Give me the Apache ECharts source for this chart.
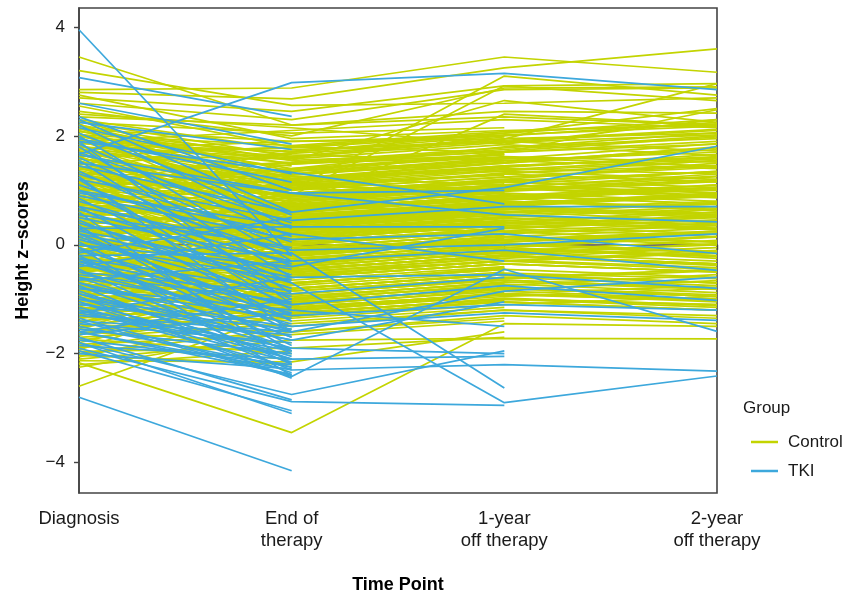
<!DOCTYPE html>
<html>
<head>
<meta charset="utf-8">
<script src="https://cdn.jsdelivr.net/npm/echarts@6/dist/echarts.min.js"></script>
<style>html,body{margin:0;padding:0;background:#fff}#c{width:845px;height:599px}</style>
</head>
<body>
<div id="c"></div>
<script>
const timePoints = ['Diagnosis', 'End of\ntherapy', '1-year\noff therapy', '2-year\noff therapy'];
const yTicks = [-4, -2, 0, 2, 4];
const groups = ['Control', 'TKI'];

// Each row: [Diagnosis, End of therapy, 1-year off, 2-year off] (null = not measured)
const controlPatients = [
[3.45,2.2,2.35,2.2],[3.2,2.56,2.6,2.7],[2.85,2.88,3.45,3.17],[2.8,2.68,3.25,3.6],[2.75,1.95,2.1,2.2],
[2.7,2.45,2.92,2.96],[2.6,2.3,2.85,2.88],[2.55,1.8,2.05,2.5],[2.4,2.15,1.85,2.3],[2.45,2.0,2.88,2.9],
[2.0,1.55,2.65,2.25],[1.75,1.9,1.94,2.96],[1.1,1.3,1.7,2.48],[2.35,2.2,2.45,2.42],[1.9,2.1,2.3,2.15],
[2.3,1.75,1.9,2.1],[2.28,1.2,1.45,1.6],[2.25,2.05,2.15,null],[2.22,0.9,1.1,0.95],[2.2,1.55,1.7,1.85],
[2.18,1.35,null,null],[2.15,0.6,0.85,1.1],[2.12,1.9,2.0,2.25],[2.1,1.05,1.3,null],[2.08,1.65,1.55,1.4],
[2.05,0.4,0.7,0.55],[2.02,1.4,1.8,1.95],[2.0,1.1,0.95,null],[1.98,1.7,2.05,2.3],[1.95,0.75,null,null],
[1.92,1.25,1.35,1.2],[1.9,0.95,1.2,1.5],[1.88,1.5,1.6,null],[1.85,0.2,0.45,0.3],[1.82,1.15,1.0,1.25],
[1.8,1.6,1.95,2.05],[1.78,0.55,0.8,null],[1.75,1.3,1.5,1.75],[1.72,0.85,1.05,0.9],[1.7,1.45,null,null],
[1.68,0.3,0.6,0.75],[1.65,1.0,1.25,1.45],[1.62,1.8,1.7,1.9],[1.6,0.65,0.9,null],[1.58,1.2,1.4,1.3],
[1.55,0.1,0.35,0.5],[1.52,0.9,1.15,1.0],[1.5,1.0,3.1,2.75],[1.48,1.35,1.55,1.7],[1.45,0.45,0.65,null],
[1.42,1.1,1.3,1.55],[1.4,0.7,0.95,0.8],[1.38,1.5,1.75,2.0],[1.35,0.0,0.25,null],[1.32,0.9,2.92,2.65],
[1.3,1.25,1.1,1.35],[1.28,0.35,0.55,0.4],[1.25,0.8,null,null],[1.22,1.05,1.3,1.15],[1.2,0.55,0.75,0.95],
[1.18,1.4,1.65,null],[1.15,-0.1,0.15,0.05],[1.12,0.75,1.0,1.2],[1.1,1.15,1.45,1.6],[1.08,0.25,0.5,null],
[1.05,0.6,0.4,0.65],[1.02,0.95,1.2,1.05],[1.0,0.15,null,null],[0.98,0.5,0.8,0.7],[0.95,1.2,1.5,1.8],
[0.92,-0.2,0.05,0.25],[0.9,0.4,0.6,null],[0.88,0.85,1.1,0.9],[0.85,0.05,0.3,0.45],[0.82,0.65,0.9,1.1],
[0.8,1.05,0.85,null],[0.78,-0.35,-0.1,-0.2],[0.75,0.3,0.55,0.7],[0.72,0.7,2.4,2.2],[0.7,-0.05,0.2,null],
[0.68,0.55,0.7,0.55],[0.65,0.2,null,null],[0.62,0.9,1.15,1.35],[0.6,-0.45,-0.2,-0.05],[0.58,0.35,0.65,0.8],
[0.55,0.1,0.4,null],[0.52,0.75,0.55,0.3],[0.5,-0.15,0.1,0.2],[0.48,0.45,0.75,0.95],[0.45,-0.6,-0.35,null],
[0.42,0.25,0.5,0.35],[0.4,0.6,0.85,1.05],[0.38,-0.25,0.0,-0.15],[0.35,0.0,null,null],[0.32,0.4,0.65,0.5],
[0.3,-0.5,-0.3,-0.45],[0.28,0.15,0.45,null],[0.25,0.8,1.05,1.3],[0.22,-0.1,0.15,0.3],[0.2,0.3,0.25,0.05],
[0.18,-0.7,-0.45,null],[0.15,0.5,0.8,0.65],[0.12,-0.3,null,null],[0.1,0.1,0.35,0.55],[0.08,-0.85,-0.6,-0.75],
[0.05,0.2,0.5,null],[0.02,-0.45,-0.2,-0.35],[0.0,0.65,0.9,0.75],[-0.02,-0.15,0.1,0.25],[-0.05,-0.95,null,null],
[-0.08,0.05,0.3,0.15],[-0.1,-0.55,-0.3,-0.1],[-0.12,0.35,0.6,null],[-0.15,-0.35,-0.05,-0.25],[-0.18,-1.05,-0.8,-0.95],
[-0.2,0.0,0.25,0.4],[-0.22,-0.65,-0.4,null],[-0.25,0.45,0.7,0.9],[-0.28,-0.2,null,null],[-0.3,-0.8,-0.55,-0.7],
[-0.32,-0.4,-0.15,-0.3],[-0.35,0.15,0.4,0.6],[-0.38,-1.15,-0.9,null],[-0.4,-0.5,-0.25,-0.05],[-0.42,-0.1,0.15,0.0],
[-0.45,-0.75,null,null],[-0.48,-0.3,-0.05,0.15],[-0.5,-0.9,-0.65,-0.8],[-0.52,0.25,0.5,null],[-0.55,-0.6,-0.35,-0.5],
[-0.58,-1.25,-1.0,-1.1],[-0.6,-0.2,0.05,0.2],[-0.62,-0.7,null,null],[-0.65,-1.0,-0.75,-0.55],[-0.68,-0.35,-0.1,null],
[-0.7,0.1,0.35,0.2],[-0.72,-1.1,-0.85,-1.0],[-0.75,-0.55,-0.3,-0.15],[-0.78,-1.35,null,null],[-0.8,-0.8,-0.55,-0.7],
[-0.82,-0.25,0.0,0.15],[-0.85,-0.95,-0.7,null],[-0.88,-0.45,-0.2,-0.35],[-0.9,-1.2,-0.95,-0.8],[-0.92,-0.65,null,null],
[-0.95,-0.05,0.2,0.35],[-0.98,-1.05,-0.8,-0.95],[-1.0,-0.75,-0.5,null],[-1.02,-1.3,-1.05,-1.2],[-1.05,-0.4,-0.15,0.0],
[-1.08,-0.9,null,null],[-1.1,-1.15,-0.9,-1.05],[-1.12,-0.6,-0.35,-0.5],[-1.15,-1.4,-1.15,null],[-1.18,-0.85,-0.6,-0.45],
[-1.2,-0.3,-0.05,-0.2],[-1.22,-1.1,null,null],[-1.25,-0.7,-0.45,-0.6],[-1.28,-1.25,-1.0,-1.15],[-1.3,-0.95,-0.7,null],
[-1.33,-1.5,-1.2,-1.3],[-1.36,-0.55,-0.3,-0.15],[-1.4,-1.2,null,null],[-1.43,-0.8,-0.55,-0.7],[-1.46,-1.6,-1.3,-1.45],
[-1.5,-1.0,-0.75,null],[-1.53,-0.45,-0.2,-0.35],[-1.56,-1.35,-1.1,-0.95],[-1.6,-1.8,null,null],[-1.63,-1.05,-0.8,-0.95],
[-1.66,-0.7,-0.45,null],[-1.7,-1.45,-1.2,-1.35],[-1.73,-2.0,null,null],[-1.76,-1.15,-0.9,-0.75],[-1.8,-0.9,-0.65,-0.8],
[-1.83,-1.65,-1.4,null],[-1.86,-2.1,null,null],[-1.9,-1.3,-1.05,-1.2],[-1.93,-0.6,-0.35,-0.5],[-1.96,-1.9,-1.7,null],
[-2.0,-1.55,null,null],[-2.03,-2.2,null,null],[-2.06,-1.25,-1.0,-1.1],[-2.1,-1.75,-1.72,-1.73],[-2.13,-2.15,-1.6,null],
[-2.17,-3.45,-1.45,-1.5],[-2.2,-1.95,null,null],[-2.25,-1.6,-1.35,null],[-2.6,-1.2,-0.9,-1.0],
[2.26,1.62,1.88,2.02],[2.14,1.48,1.66,null],[2.04,1.22,1.52,1.78],[1.96,0.82,1.02,1.18],[1.86,1.72,1.92,2.12],
[1.76,1.08,1.28,null],[1.64,1.58,1.84,1.64],[1.54,0.62,0.88,1.06],[1.44,1.28,1.58,1.86],[1.36,0.72,1.12,null],
[1.26,1.02,1.24,1.42],[1.16,0.42,0.68,0.58],[1.06,1.38,1.62,1.52],[0.96,0.68,0.98,null],[0.86,0.28,0.52,0.66],
[0.76,1.12,1.38,1.58],[0.66,0.48,0.78,0.88],[0.56,0.92,1.18,null],[0.46,0.08,0.38,0.52],[0.36,0.72,0.98,1.16],
[0.26,0.38,0.62,0.42],[0.16,1.02,1.32,1.46],[0.06,-0.18,0.18,null],[-0.04,0.52,0.82,1.02],[-0.14,0.22,0.48,0.36],
[-0.24,-0.48,-0.18,0.02],[-0.34,0.62,0.92,null],[-0.44,-0.22,0.08,0.22],[-0.54,0.32,0.58,0.78],[-0.64,-0.82,-0.52,-0.62],
[-0.74,0.02,0.28,null],[-0.84,-0.58,-0.28,-0.42],[-0.94,0.42,0.68,0.52],[-1.04,-0.98,-0.68,-0.82],[-1.14,-0.12,0.12,null],
[-1.24,-0.42,-0.12,0.08],[-1.34,-1.08,-0.78,-0.92],[-1.44,-0.28,0.02,-0.12],[-1.54,-0.72,-0.42,null],[-1.64,-1.22,-0.92,-1.02],
[2.02,1.82,2.08,2.22],[1.92,1.62,1.98,null],[1.7,1.78,2.02,2.18],[1.5,1.68,1.9,1.72],[1.3,1.52,1.78,2.06],
[1.1,1.7,2.0,null],[0.9,1.48,1.72,1.98],[0.7,1.3,1.6,1.44],[0.5,1.18,1.42,1.66],[0.3,1.35,1.68,null],
[0.1,0.88,1.18,1.34],[-0.1,0.78,1.04,0.86],[-0.3,1.08,1.36,1.54],[-0.5,0.62,0.88,null],[-0.7,0.58,0.84,1.04],
[1.82,0.68,0.86,0.62],[1.62,0.38,0.72,0.92],[1.42,0.18,0.42,null],[1.22,-0.32,-0.02,0.14],[1.02,-0.52,-0.22,-0.38],
[0.82,-0.72,-0.42,null],[0.62,-0.92,-0.62,-0.48],[0.42,-1.02,-0.72,-0.88],[0.22,-1.18,-0.88,null],[0.02,-1.28,-0.98,-1.12],
[-0.18,-1.12,-0.82,-0.66],[-0.38,-1.32,-1.02,null],[-0.58,-0.08,0.22,0.36],[-0.78,-0.38,-0.08,-0.22],[-0.98,-0.18,0.08,null],
[1.58,1.12,1.44,1.62],[1.28,0.88,1.08,0.96],[0.98,1.28,1.54,null],[0.68,0.82,1.06,1.26],[0.38,0.58,0.92,0.74],
[0.08,0.68,0.96,null],[-0.22,0.48,0.74,0.94],[-0.52,0.12,0.42,0.28],[-0.82,0.18,0.52,null],[-1.12,-0.02,0.32,0.46]
];

const tkiPatients = [
[1.66,2.98,3.15,2.85],[2.3,0.6,1.05,1.81],[1.2,0.45,0.7,0.7],[1.65,0.95,0.55,0.42],[0.9,0.1,0.2,-0.16],
[0.5,-0.3,-0.1,-0.47],[0.2,-0.6,-0.55,-0.8],[-0.3,-1.1,-0.75,-1.02],[-0.6,-1.3,-1.1,-1.2],[-1.0,-1.5,-1.25,-1.39],
[-1.4,-2.42,-0.45,-1.59],[-1.8,-2.75,-1.95,null],[-1.9,-2.88,-2.95,null],[-0.2,-0.15,-2.63,null],[0.4,-0.7,-2.9,-2.41],
[-1.6,-2.3,-2.2,-2.32],[-1.2,-1.9,-2.0,null],[-1.05,-2.1,-2.05,null],[1.9,1.33,0.75,null],[0.0,-0.4,0.3,null],
[-0.5,-0.9,-0.6,null],[1.0,0.2,-0.3,null],[-0.8,-1.2,-1.5,null],[0.7,-0.1,0.0,0.2],[1.5,0.95,1.0,null],
[-1.3,-1.6,-0.85,-0.6],[0.3,0.33,0.33,null],[-0.9,-1.75,-1.05,null],
[3.95,-0.2,null,null],[3.07,2.36,null,null],[2.6,1.85,null,null],[-2.8,-4.15,null,null],[2.35,1.0,null,null],
[2.2,0.3,null,null],[2.15,1.3,null,null],[2.05,0.55,null,null],[2.0,-0.3,null,null],[1.95,1.15,null,null],
[1.85,0.15,null,null],[1.8,-0.6,null,null],[1.7,0.4,null,null],[1.6,-0.1,null,null],[1.55,-0.9,null,null],
[1.45,0.6,null,null],[1.35,-0.4,null,null],[1.3,0.05,null,null],[1.2,-1.2,null,null],[1.1,-0.2,null,null],
[1.0,-0.7,null,null],[0.95,0.35,null,null],[0.85,-1.0,null,null],[0.8,-0.35,null,null],[0.7,-1.4,null,null],
[0.65,-0.55,null,null],[0.55,-0.05,null,null],[0.45,-1.1,null,null],[0.4,-0.8,null,null],[0.3,-1.6,null,null],
[0.25,-0.45,null,null],[0.15,-1.3,null,null],[0.1,-0.95,null,null],[0.05,-1.85,null,null],[0.0,-0.65,null,null],
[-0.05,-1.5,null,null],[-0.1,-1.15,null,null],[-0.2,-2.0,null,null],[-0.25,-0.85,null,null],[-0.3,-1.7,null,null],
[-0.35,-1.25,null,null],[-0.45,-2.2,null,null],[-0.5,-1.45,null,null],[-0.55,-1.05,null,null],[-0.6,-1.9,null,null],
[-0.7,-1.6,null,null],[-0.75,-2.3,null,null],[-0.8,-1.35,null,null],[-0.85,-2.1,null,null],[-0.9,-2.05,null,null],
[-1.0,-1.75,null,null],[-1.05,-2.35,null,null],[-1.1,-1.55,null,null],[-1.15,-2.15,null,null],[-1.25,-1.95,null,null],
[-1.35,-2.4,null,null],[-1.4,-1.65,null,null],[-1.5,-2.25,null,null],[-1.55,-2.0,null,null],[-1.6,-2.38,null,null],
[-1.7,-2.85,null,null],[-1.75,-2.2,null,null],[-1.8,-3.1,null,null],[-1.85,-2.1,null,null],[-1.95,-3.05,null,null],
[-2.0,-2.28,null,null],[0.6,-2.2,null,null],[1.9,-1.1,null,null],[-0.15,0.5,null,null],[-0.4,0.2,null,null],
[-0.65,-0.3,null,null],[-1.25,-0.6,null,null],[-1.6,-1.0,null,null],[2.25,1.75,null,null],[-1.45,-1.8,null,null],
[-0.95,-2.45,null,null],[0.35,-1.95,null,null],[-0.05,-2.4,null,null],[1.25,-1.6,null,null],[-1.65,-1.25,null,null],
[-1.2,-2.25,null,null],[-0.7,-1.95,null,null],[-0.25,-1.7,null,null],[0.2,-1.4,null,null]
];

const COLORS = { Control: '#c3d400', TKI: '#3da8dc' };
const FONT = 'Liberation Sans, Arial, sans-serif';

function makeSeries(group, row) {
  return {
    type: 'line', name: group, data: row, symbol: 'none', silent: true,
    connectNulls: false, animation: false,
    lineStyle: { color: COLORS[group], width: 1.7 },
    itemStyle: { color: COLORS[group] },
    emphasis: { disabled: true }
  };
}
const series = [];
controlPatients.forEach(r => series.push(makeSeries('Control', r)));
tkiPatients.forEach(r => series.push(makeSeries('TKI', r)));

const chart = echarts.init(document.getElementById('c'), null, { renderer: 'canvas' });
chart.setOption({
  animation: false,
  backgroundColor: '#fff',
  textStyle: { fontFamily: FONT },
  grid: { left: 79, right: 128, top: 8, bottom: 103, show: true, borderColor: '#444', borderWidth: 1.6, containLabel: false },
  graphic: [{ type: 'text', left: 743, top: 400, style: { text: 'Group', font: '17px ' + FONT, fill: '#1a1a1a' } }],
  legend: {
    data: groups, orient: 'vertical', left: 746, top: 427, itemWidth: 27, itemHeight: 2.5, itemGap: 9,
    icon: 'rect', selectedMode: false,
    textStyle: { fontSize: 17, color: '#1a1a1a', lineHeight: 20, padding: [0, 0, 0, 5], fontFamily: FONT }
  },
  xAxis: {
    type: 'category', data: timePoints, boundaryGap: false,
    name: 'Time Point', nameLocation: 'middle', nameGap: 83,
    nameTextStyle: { fontSize: 18, fontWeight: 'bold', color: '#000', fontFamily: FONT },
    axisLine: { show: true, lineStyle: { color: '#444', width: 1.6 } },
    axisTick: { show: true, length: 5, lineStyle: { color: '#444', width: 1.4 } },
    axisLabel: { fontSize: 18.5, color: '#1a1a1a', lineHeight: 22, margin: 15, fontFamily: FONT, interval: 0 },
    splitLine: { show: false }
  },
  yAxis: {
    type: 'value', min: -4.56, max: 4.35,
    name: 'Height z\u2212scores', nameLocation: 'middle', nameGap: 47, nameRotate: 90,
    nameTextStyle: { fontSize: 18, fontWeight: 'bold', color: '#000', fontFamily: FONT },
    axisLine: { show: true, lineStyle: { color: '#444', width: 1.6 } },
    axisTick: { show: true, length: 5, customValues: yTicks, lineStyle: { color: '#444', width: 1.4 } },
    axisLabel: {
      fontSize: 17, color: '#1a1a1a', margin: 14, fontFamily: FONT, customValues: yTicks,
      formatter: v => (v < 0 ? '\u2212' + Math.abs(v) : String(v))
    },
    splitLine: { show: false }
  },
  series: series
});
</script>
</body>
</html>
